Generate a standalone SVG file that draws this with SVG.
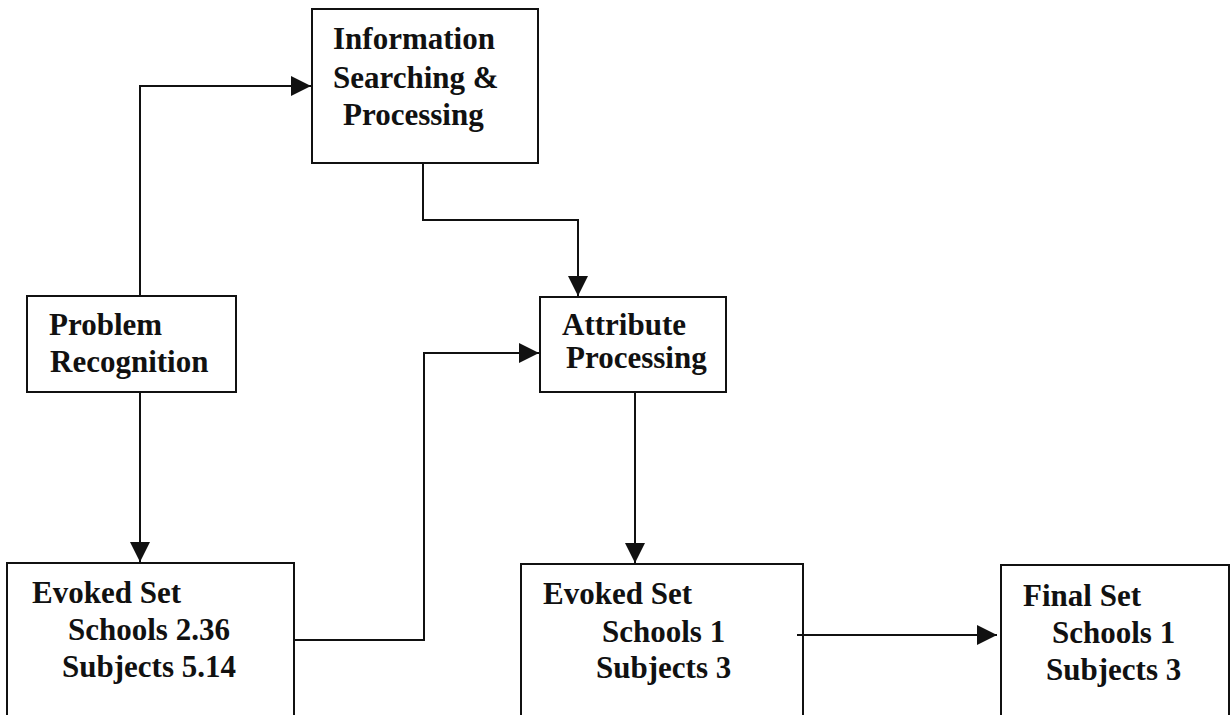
<svg xmlns="http://www.w3.org/2000/svg" width="1230" height="715" viewBox="0 0 1230 715">
  <style>
    .box { fill: #ffffff; stroke: #111111; stroke-width: 2; }
    .lbl { font-family: "Liberation Serif", "Times New Roman", serif; font-weight: bold; font-size: 31px; fill: #111111; }
    .wire { fill: none; stroke: #111111; stroke-width: 2; }
  </style>
  <defs>
    <marker id="arrow" markerUnits="userSpaceOnUse" markerWidth="22" markerHeight="20" refX="20" refY="10" orient="auto">
      <path d="M0,0 L20,10 L0,20 Z" fill="#111111"/>
    </marker>
  </defs>
  <rect width="1230" height="715" fill="#ffffff"/>

  <g id="info-search">
    <rect class="box" x="312" y="9" width="226" height="154"/>
    <text class="lbl" x="333" y="49">Information</text>
    <text class="lbl" x="333" y="88">Searching &amp;</text>
    <text class="lbl" x="343" y="125">Processing</text>
  </g>

  <g id="problem-recognition">
    <rect class="box" x="27" y="296" width="209" height="96"/>
    <text class="lbl" x="49" y="335">Problem</text>
    <text class="lbl" x="50" y="372">Recognition</text>
  </g>

  <g id="attribute-processing">
    <rect class="box" x="540" y="297" width="186" height="95"/>
    <text class="lbl" x="562" y="335">Attribute</text>
    <text class="lbl" x="566" y="368">Processing</text>
  </g>

  <g id="evoked-set-initial">
    <rect class="box" x="7" y="563" width="287" height="170"/>
    <text class="lbl" x="32" y="603">Evoked Set</text>
    <text class="lbl" x="68" y="640">Schools 2.36</text>
    <text class="lbl" x="62" y="677">Subjects 5.14</text>
  </g>

  <g id="evoked-set-reduced">
    <rect class="box" x="521" y="564" width="282" height="170"/>
    <text class="lbl" x="543" y="604">Evoked Set</text>
    <text class="lbl" x="602" y="642">Schools 1</text>
    <text class="lbl" x="596" y="678">Subjects 3</text>
  </g>

  <g id="final-set">
    <rect class="box" x="1001" y="565" width="228" height="170"/>
    <text class="lbl" x="1023" y="606">Final Set</text>
    <text class="lbl" x="1052" y="643">Schools 1</text>
    <text class="lbl" x="1046" y="680">Subjects 3</text>
  </g>

  <g id="connectors">
    <polyline class="wire" points="140,296 140,86 311,86" marker-end="url(#arrow)"/>
    <polyline class="wire" points="423,163 423,220 578,220 578,296" marker-end="url(#arrow)"/>
    <polyline class="wire" points="140,392 140,562" marker-end="url(#arrow)"/>
    <polyline class="wire" points="294,640 424,640 424,353 539,353" marker-end="url(#arrow)"/>
    <polyline class="wire" points="635,392 635,563" marker-end="url(#arrow)"/>
    <polyline class="wire" points="797,635 997,635" marker-end="url(#arrow)"/>
  </g>
</svg>
